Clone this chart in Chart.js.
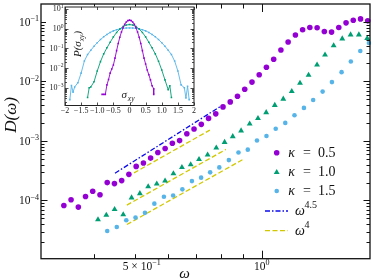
<!DOCTYPE html>
<html><head><meta charset="utf-8">
<script src="https://cdn.jsdelivr.net/npm/chart.js@4.4.1/dist/chart.umd.min.js"></script>
<style>
html,body{margin:0;padding:0;background:#fff;}
#wrap{position:relative;width:374px;height:280px;}
#main{position:absolute;left:0;top:0;}
#inset{position:absolute;left:44px;top:3px;}
</style></head><body>
<div id="wrap"><canvas id="main" width="374" height="280"></canvas><canvas id="inset" width="154" height="116"></canvas></div>
<script>
// ---------- main panel data: D(omega) ----------
const omega05 = [0.3398,0.3534,0.3677,0.3824,0.3977,0.4138,0.4304,0.4477,0.4657,0.4844,0.5040,0.5243,0.5453,0.5672,0.5902,0.6139,0.6386,0.6643,0.6909,0.7188,0.7478,0.7778,0.8091,0.8417,0.8755,0.9108,0.9476,0.9856,1.0252,1.0666,1.1094,1.1539,1.2006,1.2488,1.2989,1.3514,1.4057,1.4622,1.5209,1.5824,1.6459,1.7124,1.7810];
const D05 = [8.25e-5,1.027e-4,7.73e-5,1.166e-4,1.429e-4,1.245e-4,1.995e-4,1.92e-4,2.154e-4,2.743e-4,3.73e-4,4.25e-4,5.15e-4,6.38e-4,7.44e-4,9.15e-4,1.012e-3,1.323e-3,1.585e-3,1.898e-3,2.39e-3,2.85e-3,3.73e-3,4.52e-3,5.62e-3,7.36e-3,9.73e-3,1.293e-2,1.731e-2,2.353e-2,3.376e-2,4.59e-2,6.0e-2,7.36e-2,8.04e-2,7.94e-2,6.89e-2,6.73e-2,8.04e-2,9.62e-2,0.1067,0.1122,0.1039];
const omega10 = [0.4093,0.4283,0.4481,0.4697,0.4915,0.5143,0.5381,0.5639,0.5900,0.6175,0.6468,0.6784,0.7099,0.7440,0.7800,0.8162,0.8533,0.8930,0.9357,0.9790,1.0240,1.0730,1.1240,1.1770,1.2310,1.2900,1.3510,1.4110,1.4790,1.5500,1.6220,1.6970,1.7760];
const D10 = [4.77e-5,5.69e-5,7.08e-5,5.78e-5,1.113e-4,1.308e-4,1.711e-4,1.905e-4,2.129e-4,2.818e-4,3.589e-4,4.011e-4,4.916e-4,5.843e-4,7.64e-4,9.513e-4,1.189e-3,1.485e-3,1.935e-3,2.399e-3,3.008e-3,3.981e-3,5.07e-3,6.81e-3,9.37e-3,1.274e-2,1.898e-2,2.786e-2,3.981e-2,5.21e-2,6.07e-2,6.07e-2,5.27e-2];
const omega15 = [0.4304,0.4534,0.4775,0.5022,0.5287,0.5565,0.5863,0.6165,0.6483,0.6830,0.7181,0.7543,0.7930,0.8354,0.8803,0.9261,0.9737,1.0254,1.0785,1.1361,1.1946,1.2578,1.3226,1.3926,1.4652,1.5443,1.6242,1.7100,1.7923];
const D15 = [3.077e-5,3.589e-5,4.642e-5,5.149e-5,6.19e-5,8.84e-5,1.157e-4,1.212e-4,1.537e-4,2.113e-4,2.416e-4,2.963e-4,3.589e-4,4.768e-4,6.383e-4,7.13e-4,1.019e-3,1.212e-3,1.603e-3,2.01e-3,2.692e-3,3.589e-3,4.88e-3,6.735e-3,9.734e-3,1.429e-2,2.154e-2,3.249e-2,4.416e-2];
// guide lines (end points)
const fitOmega45 = [0.449, 0.805];  const fitD45 = [2.87e-4, 3.95e-3];
const fitOmega4a = [0.498, 0.753];  const fitD4a = [2.9e-4, 1.52e-3];
const fitOmega4b = [0.479, 0.822];  const fitD4b = [8.35e-5, 7.2e-4];
const fitOmega4c = [0.479, 0.903];  const fitD4c = [3.94e-5, 4.9e-4];
// ticks
const xTickValues = [0.4,0.5,0.6,0.7,0.8,0.9,1.0];
const xTickLabels = [{v:0.5, base:'5 × 10', exp:'−1'},{v:1.0, base:'10', exp:'0'}];
const yTickValues = [1e-1,1e-2,1e-3,1e-4];
const yTickExps = ['−1','−2','−3','−4'];
const legendLabels = ['0.5','1.0','1.5'];

// ---------- inset data: P(sigma_xy) ----------
const sigma05 = [-0.85,-0.8,-0.75,-0.7,-0.65,-0.6,-0.55,-0.5,-0.45,-0.4,-0.35,-0.3,-0.25,-0.2,-0.15,-0.1,-0.05,0,0.05,0.1,0.15,0.2,0.25,0.3,0.35,0.4,0.45,0.5,0.55,0.6,0.65,0.7,0.75,0.75];
const P05 = [4.6e-4,4.6e-4,4.6e-4,1.4e-3,2.6e-3,5.5e-3,8.9e-3,0.0141,0.0316,0.076,0.174,0.363,0.66,1.10,1.62,2.14,2.51,2.66,2.51,2.14,1.62,1.10,0.66,0.363,0.174,0.076,0.0316,0.0158,7.9e-3,4.5e-3,2.5e-3,1.26e-3,8.9e-4,4.6e-4];
const sigma10 = [-1.3,-1.25,-1.2,-1.1,-1.0,-0.9,-0.8,-0.7,-0.6,-0.5,-0.4,-0.3,-0.2,-0.1,0,0.1,0.2,0.3,0.4,0.5,0.6,0.7,0.8,0.9,1.0,1.1,1.2,1.25,1.3];
const P10 = [3.2e-4,1.0e-3,1.1e-3,2.0e-3,7.1e-3,0.021,0.052,0.105,0.2,0.376,0.631,0.944,1.26,1.5,1.58,1.5,1.26,0.944,0.631,0.376,0.2,0.105,0.052,0.022,7.9e-3,2.5e-3,7.9e-4,1.26e-3,3.2e-4];
const sigma15 = [-1.85,-1.8,-1.75,-1.7,-1.6,-1.5,-1.4,-1.3,-1.2,-1.1,-1.0,-0.9,-0.8,-0.7,-0.6,-0.5,-0.4,-0.3,-0.2,-0.1,0,0.1,0.2,0.3,0.4,0.5,0.6,0.7,0.8,0.9,1.0,1.1,1.2,1.3,1.4,1.5,1.6,1.7,1.75,1.8,1.85];
const P15 = [2.5e-4,1.3e-3,6e-4,1.1e-3,1.8e-3,5.5e-3,0.0224,0.0479,0.0794,0.126,0.191,0.275,0.38,0.501,0.631,0.759,0.871,0.955,1.023,1.059,1.072,1.059,1.023,0.955,0.871,0.759,0.631,0.501,0.38,0.275,0.191,0.126,0.0794,0.0479,0.0224,7e-3,1.4e-3,1.0e-3,3e-4,1.2e-3,2.5e-4];
const insetXTicks = [-2,-1.5,-1,-0.5,0,0.5,1,1.5,2];
const insetXLabels = ['−2','−1.5','−1.0','−0.5','0','0.5','1.0','1.5','2'];
const insetYTicks = [10,1,0.1,0.01,0.001];
const insetYExps = ['1','0','−1','−2','−3'];

// ---------- style ----------
const SERIF = '"Liberation Serif","DejaVu Serif",serif';
const PURPLE='#9400D3', GREEN='#009E73', SKY='#56B4E9', BLUE='#0A0AF0', YELLOW='#D2C800';
const X_MIN=0.34012, X_MAX=1.803, Y_MIN=1.0512e-5, Y_MAX=0.19953;
const IN_YMIN=1.26e-4, IN_YMAX=12.3;

function pts(xs, ys){ return xs.map((x,i)=>({x:x, y:ys[i]})); }
function drawPow(ctx, base, exp, x, y, size, align, italic){
  const bf = (italic?'italic ':'') + size + 'px ' + SERIF;
  const ef = (size*0.7).toFixed(2) + 'px ' + SERIF;
  ctx.font = bf; const wb = ctx.measureText(base).width;
  ctx.font = ef; const we = ctx.measureText(exp).width;
  let x0 = x;
  if (align==='right') x0 = x - wb - we; else if (align==='center') x0 = x - (wb+we)/2;
  ctx.textAlign='left'; ctx.textBaseline='alphabetic';
  ctx.font = bf; ctx.fillText(base, x0, y);
  ctx.font = ef; ctx.fillText(exp, x0+wb, y - size*0.4);
}
function seg(ctx,x1,y1,x2,y2){ ctx.beginPath(); ctx.moveTo(x1,y1); ctx.lineTo(x2,y2); ctx.stroke(); }
function marker(ctx, style, r, color, x, y){
  ctx.fillStyle = color;
  if (Chart.helpers && Chart.helpers.drawPoint){
    Chart.helpers.drawPoint(ctx, {pointStyle:style, radius:r, rotation:0, borderWidth:0}, x, y);
  } else { ctx.beginPath(); ctx.arc(x,y,r,0,Math.PI*2); ctx.fill(); }
}

const mainDeco = {
  id:'mainDeco',
  afterDraw(chart){
    const ctx = chart.ctx, a = chart.chartArea, x = chart.scales.x, y = chart.scales.y;
    ctx.save();
    ctx.strokeStyle='#111'; ctx.lineWidth=1.3;
    ctx.strokeRect(a.left, a.top, a.right-a.left, a.bottom-a.top);
    ctx.lineWidth=1;
    for (let e=-5;e<=-1;e++) for (let m=1;m<=9;m++){
      const v=m*Math.pow(10,e); if (v<Y_MIN||v>Y_MAX) continue;
      const py=Math.round(y.getPixelForValue(v))+0.5; const L=(m===1)?6.5:3.5;
      seg(ctx,a.left,py,a.left+L,py); seg(ctx,a.right-L,py,a.right,py);
    }
    xTickValues.forEach(v=>{
      const px=Math.round(x.getPixelForValue(v))+0.5; const L=(v===1)?8:4.5;
      seg(ctx,px,a.bottom,px,a.bottom-L); seg(ctx,px,a.top,px,a.top+L);
    });
    ctx.fillStyle='#111';
    yTickValues.forEach((v,i)=>{
      const py=y.getPixelForValue(v);
      drawPow(ctx,'10',yTickExps[i],a.left-2,py+3.9,11.5,'right',false);
    });
    xTickLabels.forEach(t=>{
      const px=x.getPixelForValue(t.v);
      if (t.v===1) drawPow(ctx,t.base,t.exp,px,270,11.5,'center',false);
      else drawPow(ctx,t.base,t.exp,px-12,270,11.5,'left',false);
    });
    // axis titles
    ctx.font='italic 15px '+SERIF; ctx.textAlign='center'; ctx.textBaseline='alphabetic';
    ctx.fillText('ω',184.5,278);
    ctx.save(); ctx.translate(15.5,115); ctx.rotate(-Math.PI/2);
    ctx.font='italic 17px '+SERIF; ctx.fillText('D(ω)',0,0); ctx.restore();
    // legend
    const rows=[{st:'circle',r:2.8,c:PURPLE,my:152.7,ty:156.7},{st:'triangle',r:3.4,c:GREEN,my:172.3,ty:176},{st:'circle',r:2.3,c:SKY,my:191,ty:195}];
    rows.forEach((rw,i)=>{
      marker(ctx,rw.st,rw.r,rw.c,276.7,rw.my);
      ctx.fillStyle='#111'; ctx.textAlign='left';
      ctx.font='italic 14px '+SERIF; ctx.fillText('κ',288.3,rw.ty);
      ctx.font='14px '+SERIF; ctx.fillText('=',303,rw.ty); ctx.fillText(legendLabels[i],318,rw.ty);
    });
    ctx.lineWidth=1.3;
    ctx.strokeStyle=BLUE; ctx.setLineDash([5,2,1.5,2]); seg(ctx,265,211,288,211);
    ctx.strokeStyle=YELLOW; ctx.setLineDash([5,2.5]); seg(ctx,265,230.7,288,230.7);
    ctx.setLineDash([]);
    ctx.fillStyle='#111';
    ctx.font='italic 14px '+SERIF; ctx.fillText('ω',295,215); ctx.fillText('ω',295,235);
    ctx.font='10px '+SERIF; ctx.fillText('4.5',304.5,207.5); ctx.fillText('4',304.5,227.5);
    ctx.restore();
  }
};

const ptCommon = {showLine:false, pointBorderWidth:0, clip:false};
new Chart(document.getElementById('main'), {
  type:'scatter',
  data:{datasets:[
    Object.assign({label:'κ = 0.5', data:pts(omega05,D05), pointStyle:'circle', pointRadius:2.8, pointBackgroundColor:PURPLE, pointBorderColor:PURPLE, backgroundColor:PURPLE, borderColor:PURPLE}, ptCommon),
    Object.assign({label:'κ = 1.0', data:pts(omega10,D10), pointStyle:'triangle', pointRadius:3.4, pointBackgroundColor:GREEN, pointBorderColor:GREEN, backgroundColor:GREEN, borderColor:GREEN}, ptCommon),
    Object.assign({label:'κ = 1.5', data:pts(omega15,D15), pointStyle:'circle', pointRadius:2.3, pointBackgroundColor:SKY, pointBorderColor:SKY, backgroundColor:SKY, borderColor:SKY}, ptCommon),
    {label:'ω^4.5', data:pts(fitOmega45,fitD45), showLine:true, borderColor:BLUE, borderWidth:1.3, borderDash:[5,2,1.5,2], pointRadius:0},
    {label:'ω^4', data:pts(fitOmega4a,fitD4a), showLine:true, borderColor:YELLOW, borderWidth:1.3, borderDash:[5,2.5], pointRadius:0},
    {label:'ω^4 (b)', data:pts(fitOmega4b,fitD4b), showLine:true, borderColor:YELLOW, borderWidth:1.3, borderDash:[5,2.5], pointRadius:0},
    {label:'ω^4 (c)', data:pts(fitOmega4c,fitD4c), showLine:true, borderColor:YELLOW, borderWidth:1.3, borderDash:[5,2.5], pointRadius:0}
  ]},
  options:{
    responsive:false, animation:false, devicePixelRatio:1, events:[],
    layout:{padding:{left:41,top:2,right:2,bottom:21.3}},
    plugins:{legend:{display:false}, tooltip:{enabled:false}},
    scales:{
      x:{type:'logarithmic', min:X_MIN, max:X_MAX, display:false},
      y:{type:'logarithmic', min:Y_MIN, max:Y_MAX, display:false}
    }
  },
  plugins:[mainDeco]
});

const insetDeco = {
  id:'insetDeco',
  beforeDraw(chart){
    const ctx=chart.ctx, a=chart.chartArea;
    ctx.save(); ctx.fillStyle='#fff';
    ctx.fillRect(a.left-19, a.top-0.5, a.right-a.left+21, a.bottom-a.top+8);
    ctx.restore();
  },
  afterDraw(chart){
    const ctx=chart.ctx, a=chart.chartArea, x=chart.scales.x, y=chart.scales.y;
    ctx.save();
    ctx.strokeStyle='#222'; ctx.lineWidth=1;
    ctx.strokeRect(a.left, a.top, a.right-a.left, a.bottom-a.top);
    ctx.lineWidth=0.8;
    for (let e=-4;e<=1;e++) for (let m=1;m<=9;m++){
      const v=m*Math.pow(10,e); if (v<IN_YMIN||v>IN_YMAX) continue;
      const py=Math.round(y.getPixelForValue(v))+0.5; const L=(m===1)?3.5:2;
      seg(ctx,a.left,py,a.left+L,py); seg(ctx,a.right-L,py,a.right,py);
    }
    insetXTicks.forEach(v=>{
      const px=Math.round(x.getPixelForValue(v))+0.5;
      seg(ctx,px,a.bottom,px,a.bottom-3); seg(ctx,px,a.top,px,a.top+3);
    });
    ctx.fillStyle='#222';
    ctx.font='8px '+SERIF; ctx.textAlign='center'; ctx.textBaseline='alphabetic';
    insetXTicks.forEach((v,i)=>{ ctx.fillText(insetXLabels[i], x.getPixelForValue(v), a.bottom+7.5); });
    insetYTicks.forEach((v,i)=>{ drawPow(ctx,'10',insetYExps[i],a.left-1.5,y.getPixelForValue(v)+2.7,8,'right',false); });
    // titles
    ctx.save(); ctx.translate(37,41); ctx.rotate(-Math.PI/2);
    ctx.font='italic 11px '+SERIF; const w1=ctx.measureText('P(σ').width;
    ctx.font='italic 7.5px '+SERIF; const w2=ctx.measureText('xy').width;
    ctx.font='italic 11px '+SERIF; const w3=ctx.measureText(')').width;
    let sx=-(w1+w2+w3)/2; ctx.textAlign='left';
    ctx.fillText('P(σ',sx,0);
    ctx.font='italic 7.5px '+SERIF; ctx.fillText('xy',sx+w1,2.5);
    ctx.font='italic 11px '+SERIF; ctx.fillText(')',sx+w1+w2,0);
    ctx.restore();
    ctx.textAlign='left';
    ctx.font='italic 11px '+SERIF; ctx.fillText('σ',77.5,95);
    ctx.font='italic 7.5px '+SERIF; ctx.fillText('xy',83.8,97.5);
    ctx.restore();
  }
};

const lineCommon = {showLine:true, borderWidth:0.9, pointRadius:1.1, pointStyle:'rect', pointBorderWidth:0};
new Chart(document.getElementById('inset'), {
  type:'scatter',
  data:{datasets:[
    Object.assign({label:'κ = 0.5', data:pts(sigma05,P05), borderColor:PURPLE, backgroundColor:PURPLE, pointBackgroundColor:PURPLE}, lineCommon),
    Object.assign({label:'κ = 1.0', data:pts(sigma10,P10), borderColor:GREEN, backgroundColor:GREEN, pointBackgroundColor:GREEN}, lineCommon),
    Object.assign({label:'κ = 1.5', data:pts(sigma15,P15), borderColor:SKY, backgroundColor:SKY, pointBackgroundColor:SKY}, lineCommon)
  ]},
  options:{
    responsive:false, animation:false, devicePixelRatio:1, events:[],
    layout:{padding:{left:21,top:2.7,right:4,bottom:13.5}},
    plugins:{legend:{display:false}, tooltip:{enabled:false}},
    scales:{
      x:{type:'linear', min:-2, max:2, display:false},
      y:{type:'logarithmic', min:IN_YMIN, max:IN_YMAX, display:false}
    }
  },
  plugins:[insetDeco]
});
</script>
</body></html>
